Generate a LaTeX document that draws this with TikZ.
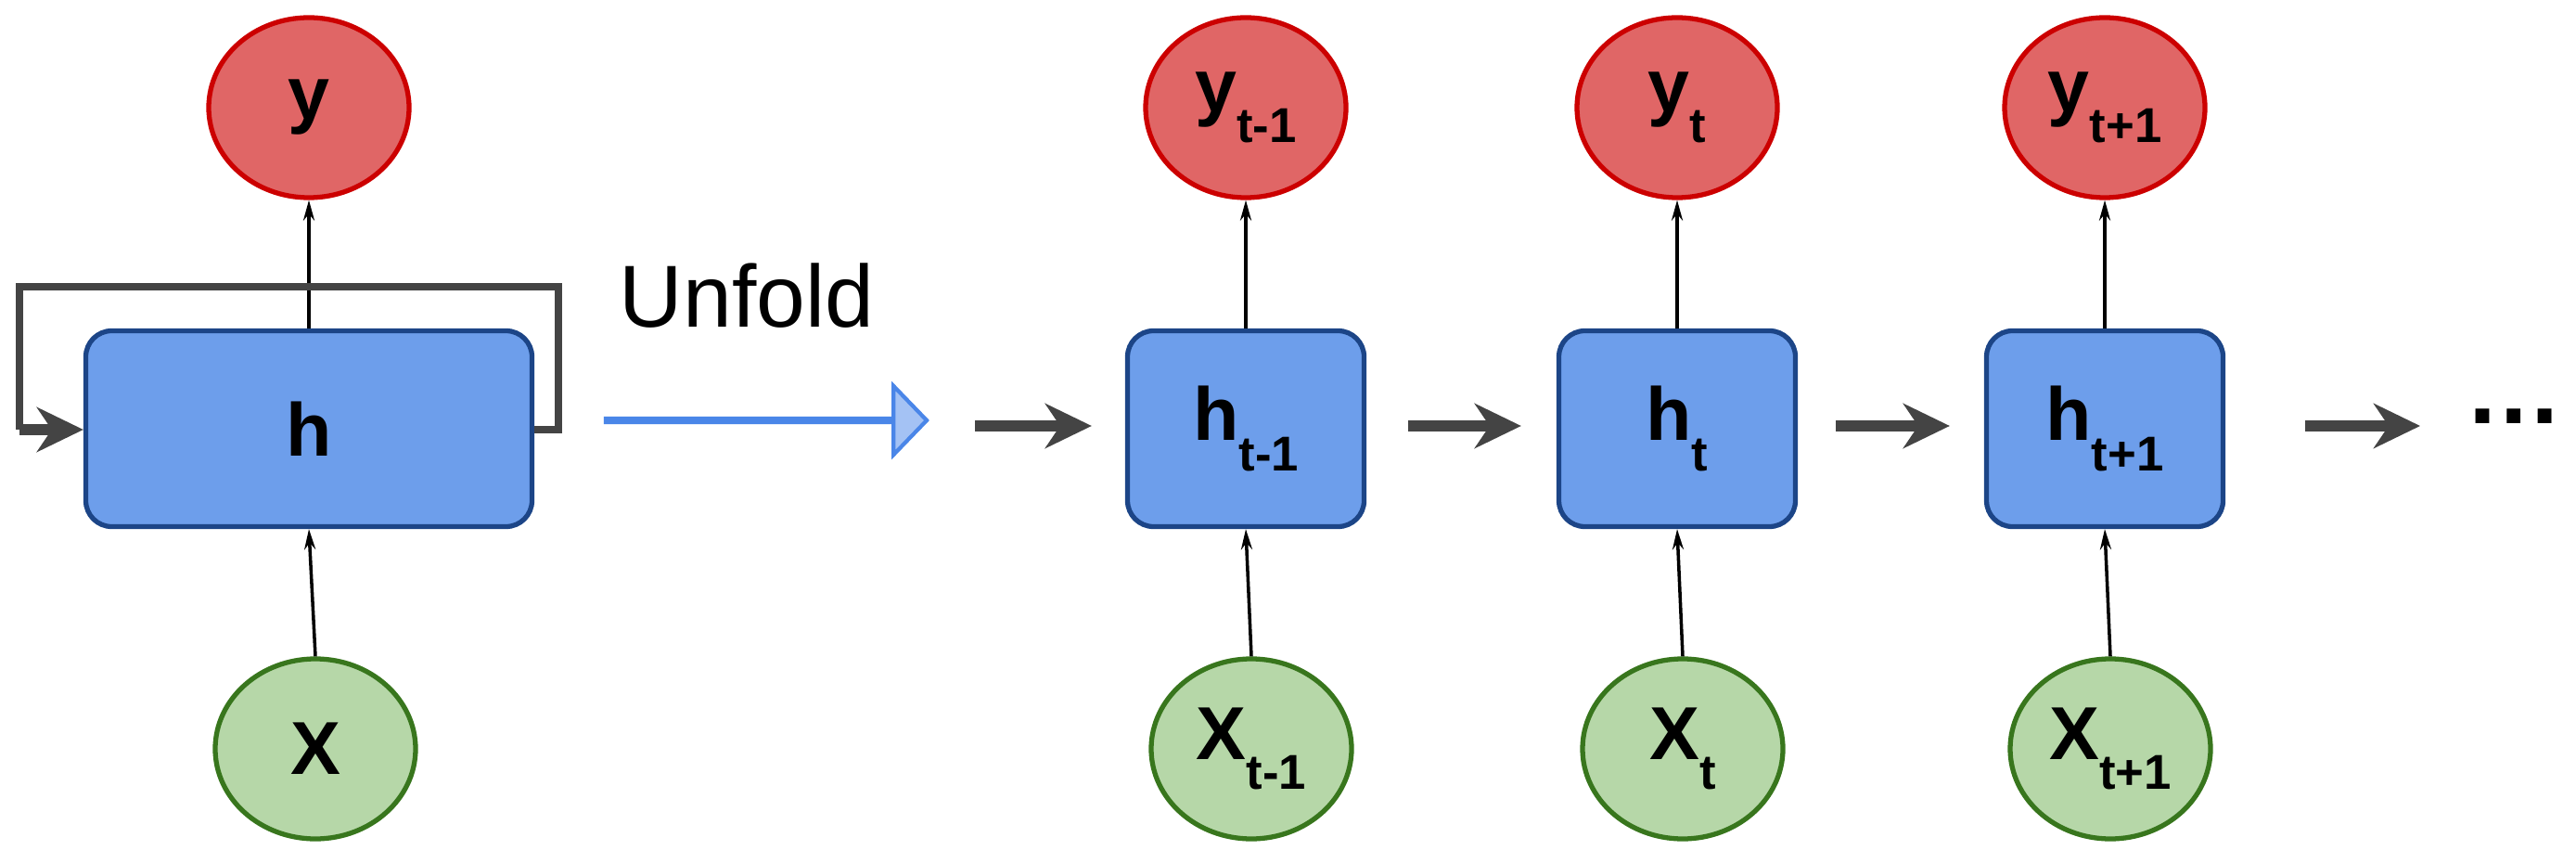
\documentclass[tikz,border=0pt]{standalone}
\usepackage{fontspec}
\setmainfont{Liberation Sans}
\usetikzlibrary{arrows.meta,shapes.geometric,shapes.arrows}
\definecolor{outred}{HTML}{E06666}
\definecolor{outredline}{HTML}{CC0000}
\definecolor{hidblue}{HTML}{6D9EEB}
\definecolor{hidblueline}{HTML}{1C4587}
\definecolor{ingreen}{HTML}{B6D7A8}
\definecolor{ingreenline}{HTML}{38761D}
\definecolor{unfoldblue}{HTML}{A4C2F4}
\definecolor{unfoldline}{HTML}{4A86E8}
\definecolor{recgray}{HTML}{444444}
\begin{document}
\begin{tikzpicture}[
      x=1cm,y=1cm,
      lbl/.style={font=\fontsize{23}{26}\selectfont\bfseries},
      output/.style={ellipse,draw=outredline,fill=outred,line width=1.5pt,minimum width=2.16cm,minimum height=1.94cm,inner sep=0pt,lbl},
      input/.style={ellipse,draw=ingreenline,fill=ingreen,line width=1.5pt,minimum width=2.16cm,minimum height=1.94cm,inner sep=0pt,lbl},
      hidden/.style={rectangle,rounded corners=0.28cm,draw=hidblueline,fill=hidblue,line width=1.5pt,minimum height=2.11cm,inner sep=0pt,lbl},
      feed/.style={thin,line width=1pt,-{Stealth[length=0.22cm,width=0.12cm]}},
      rec/.style={recgray,line width=3.5pt,-{Stealth[length=0.5cm,width=0.48cm,inset=0.16cm]}},
      loopline/.style={recgray,line width=2.5pt}
    ]
    \useasboundingbox (0,0) rectangle (27.77,9.29);
    % Draw the folded network.
    \node[output] (y) at (3.33,8.13) {y};
    \node[hidden,minimum width=4.81cm] (h) at (3.33,4.67) {h};
    \node[input] (x) at (3.40,1.22) {X};
    \draw[feed] (h.north) -- (y.south);
    \draw[feed] (x.north) -- (h.south);
    \coordinate (loopr) at (6.02,4.66);
    \coordinate (loopl) at (0.21,4.66);
    \draw[loopline] (h.east |- loopr) -- (loopr) -- (6.02,6.20) -- (0.21,6.20) -- (loopl);
    \draw[rec] (loopl) -- (h.west |- loopl);
    % Draw the unfold arrow.
    \node[font=\fontsize{27}{30}\selectfont] (unfold) at (8.05,6.10) {Unfold};
    \node[single arrow,draw=unfoldline,fill=unfoldblue,line width=1.2pt,minimum height=3.46cm,minimum width=0.71cm,
          single arrow head extend=0.35cm,single arrow tip angle=92,single arrow head indent=0pt,inner sep=0pt] (big) at (8.25,4.76) {};
    % Draw the unfolded network.
    \foreach \n/\xc/\sub in {1/13.43/t-1, 2/18.08/t, 3/22.69/t+1}{
      \node[output] (y\n) at (\xc,8.13) {y\raisebox{-0.4em}{\fontsize{15}{16}\selectfont\sub}};
      \node[hidden,minimum width=2.55cm] (h\n) at (\xc,4.67) {h\raisebox{-0.4em}{\fontsize{15}{16}\selectfont\sub}};
      \node[input] (x\n) at (\xc+0.06,1.22) {X\raisebox{-0.4em}{\fontsize{15}{16}\selectfont\sub}};
      \draw[feed] (h\n.north) -- (y\n.south);
      \draw[feed] (x\n.north) -- (h\n.south);
    }
    % Draw the transitions.
    \node[font=\fontsize{30}{30}\selectfont\bfseries] (dots) at (27.10,4.80) {\dots};
    \coordinate (start) at (10.51,4.70);
    \coordinate (end) at (26.09,4.70);
    \draw[rec,shorten >=0.36cm] (start) -- (h1.west |- start);
    \draw[rec,shorten <=0.45cm,shorten >=0.38cm] (h1.east |- start) -- (h2.west |- start);
    \draw[rec,shorten <=0.41cm,shorten >=0.37cm] (h2.east |- start) -- (h3.west |- start);
    \draw[rec,shorten <=0.86cm] (h3.east |- start) -- (end);
\end{tikzpicture}
\end{document}
